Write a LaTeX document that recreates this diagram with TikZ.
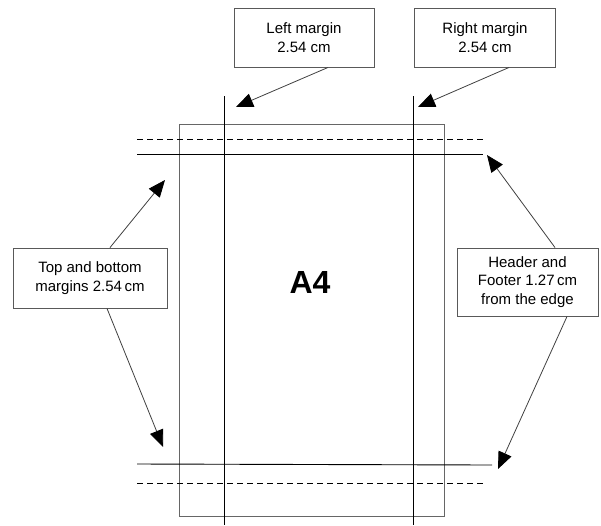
\documentclass[tikz,border=0pt]{standalone}
\usepackage{fontspec}
\setmainfont{Liberation Sans}
\usetikzlibrary{arrows.meta}

\begin{document}
\begin{tikzpicture}[x=1pt,y=-1pt,
  labelbox/.style={draw=black!65,line width=0.9pt,fill=white,align=center,
    font=\fontsize{15}{18.5}\selectfont,inner sep=0pt},
  pointer/.style={draw=black!75,line width=0.8pt,
    -{Triangle[length=17pt,width=14pt,color=black,fill=black]}},
  marginline/.style={draw=black,line width=0.9pt},
  edgeline/.style={draw=black,line width=0.9pt,dash pattern=on 6pt off 4pt}]
  \useasboundingbox (0,0) rectangle (601,525);

  % the A4 page
  \draw[black!60,line width=0.9pt] (179,124) rectangle (444,516);
  \node[font=\fontsize{32}{36}\bfseries\selectfont] (A4) at (310,282) {A4};

  % margin lines
  \coordinate (L-1) at (224,96);  \coordinate (L-2) at (224,525);
  \coordinate (R-1) at (413,96);  \coordinate (R-2) at (413,525);
  \coordinate (T-1) at (137,154); \coordinate (T-2) at (483,154);
  \coordinate (B-1) at (137,464); \coordinate (B-2) at (492,465);
  \draw[marginline] (L-1) -- (L-2);
  \draw[marginline] (R-1) -- (R-2);
  \draw[marginline] (T-1) -- (T-2);
  \draw[marginline] (B-1) -- (B-2);

  % header and footer lines
  \coordinate (H-1) at (137,139); \coordinate (H-2) at (486,139);
  \coordinate (F-1) at (137,483); \coordinate (F-2) at (486,483);
  \draw[edgeline] (H-1) -- (H-2);
  \draw[edgeline] (F-1) -- (F-2);

  % label boxes
  \node[labelbox,minimum width=140pt,minimum height=59pt] (lm) at (304,37.5) {Left margin\\2.54 cm};
  \node[labelbox,minimum width=141pt,minimum height=59pt] (rm) at (485,37.5) {Right margin\\2.54 cm};
  \node[labelbox,minimum width=154pt,minimum height=60pt] (tb) at (90,278) {Top and bottom\\margins 2.54\,cm};
  \node[labelbox,minimum width=141pt,minimum height=68pt] (hf) at (527.5,282) {Header and\\Footer 1.27\,cm\\from the edge};

  % arrow tips
  \coordinate (lm-tip) at (236,107);
  \coordinate (rm-tip) at (418,107);
  \coordinate (tb-tip1) at (165,180);
  \coordinate (tb-tip2) at (163,447);
  \coordinate (hf-tip1) at (487,155);
  \coordinate (hf-tip2) at (498,469);

  \draw[pointer] ([xshift=24pt]lm.south) -- (lm-tip);
  \draw[pointer] ([xshift=24pt]rm.south) -- (rm-tip);
  \draw[pointer] ([xshift=20pt]tb.north) -- (tb-tip1);
  \draw[pointer] ([xshift=17pt]tb.south) -- (tb-tip2);
  \draw[pointer] ([xshift=27.5pt]hf.north) -- (hf-tip1);
  \draw[pointer] ([xshift=39.5pt]hf.south) -- (hf-tip2);
\end{tikzpicture}
\end{document}
